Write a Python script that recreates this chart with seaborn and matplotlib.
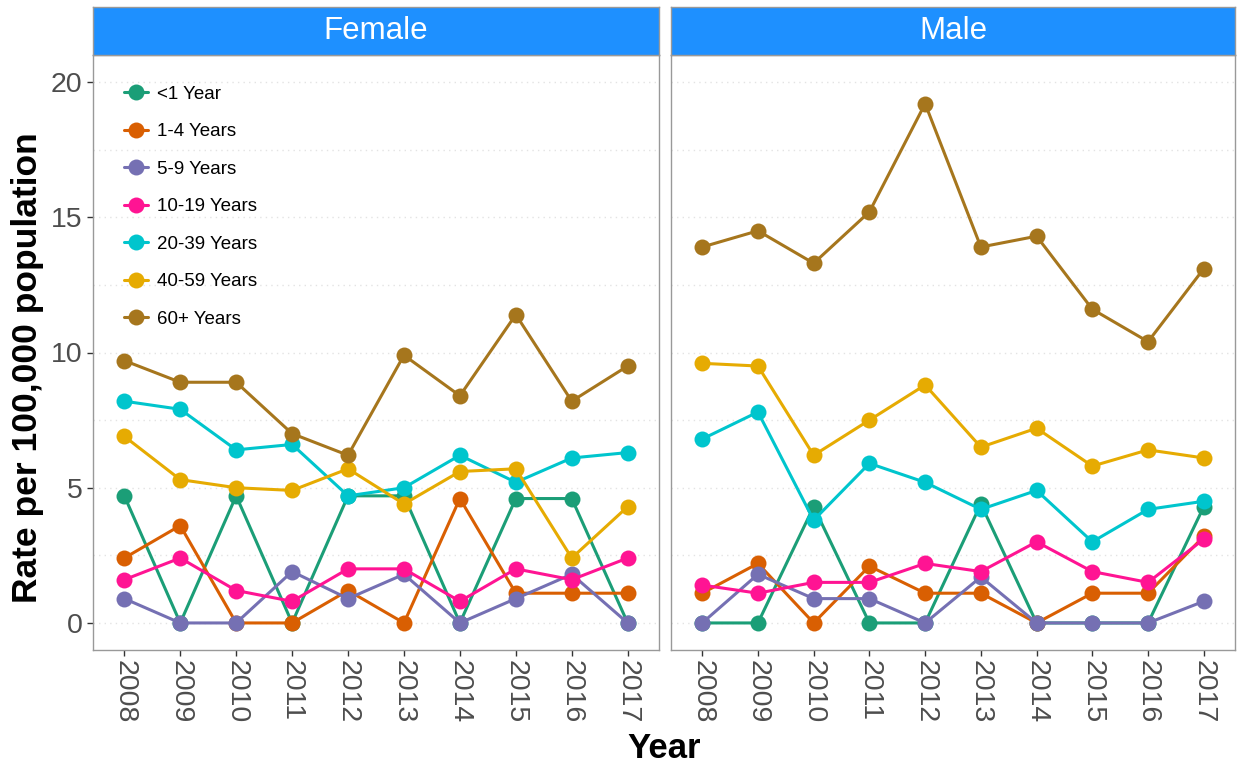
import matplotlib
matplotlib.use("Agg")
import matplotlib.pyplot as plt
import seaborn as sns
import pandas as pd

years = [2008, 2009, 2010, 2011, 2012, 2013, 2014, 2015, 2016, 2017]
age_groups = ["<1 Year", "1-4 Years", "5-9 Years", "10-19 Years", "20-39 Years", "40-59 Years", "60+ Years"]
sexes = ["Female", "Male"]

female_lt1 = [4.7, 0, 4.7, 0, 4.7, 4.7, 0, 4.6, 4.6, 0]
female_1_4 = [2.4, 3.6, 0, 0, 1.2, 0, 4.6, 1.1, 1.1, 1.1]
female_5_9 = [0.9, 0, 0, 1.9, 0.9, 1.8, 0, 0.9, 1.8, 0]
female_10_19 = [1.6, 2.4, 1.2, 0.8, 2.0, 2.0, 0.8, 2.0, 1.6, 2.4]
female_20_39 = [8.2, 7.9, 6.4, 6.6, 4.7, 5.0, 6.2, 5.2, 6.1, 6.3]
female_40_59 = [6.9, 5.3, 5.0, 4.9, 5.7, 4.4, 5.6, 5.7, 2.4, 4.3]
female_60p = [9.7, 8.9, 8.9, 7.0, 6.2, 9.9, 8.4, 11.4, 8.2, 9.5]

male_lt1 = [0, 0, 4.3, 0, 0, 4.4, 0, 0, 0, 4.3]
male_1_4 = [1.1, 2.2, 0, 2.1, 1.1, 1.1, 0, 1.1, 1.1, 3.2]
male_5_9 = [0, 1.8, 0.9, 0.9, 0, 1.7, 0, 0, 0, 0.8]
male_10_19 = [1.4, 1.1, 1.5, 1.5, 2.2, 1.9, 3.0, 1.9, 1.5, 3.1]
male_20_39 = [6.8, 7.8, 3.8, 5.9, 5.2, 4.2, 4.9, 3.0, 4.2, 4.5]
male_40_59 = [9.6, 9.5, 6.2, 7.5, 8.8, 6.5, 7.2, 5.8, 6.4, 6.1]
male_60p = [13.9, 14.5, 13.3, 15.2, 19.2, 13.9, 14.3, 11.6, 10.4, 13.1]

colors = ["#1B9E77", "#D95F02", "#7570B3", "#FF1493", "#00C5CD", "#E6AB02", "#A6761D"]

series = {
    "Female": [female_lt1, female_1_4, female_5_9, female_10_19, female_20_39, female_40_59, female_60p],
    "Male": [male_lt1, male_1_4, male_5_9, male_10_19, male_20_39, male_40_59, male_60p],
}

rows = []
for sex in sexes:
    for age, vals in zip(age_groups, series[sex]):
        for y, v in zip(years, vals):
            rows.append({"Sex": sex, "Age": age, "Year": y, "Rate": v})
df = pd.DataFrame(rows)
df["Age"] = pd.Categorical(df["Age"], categories=age_groups, ordered=True)

sns.set_style("white")
plt.rcParams["font.family"] = ["Liberation Sans", "DejaVu Sans"]
plt.rcParams["text.color"] = "black"

W, H = 1238, 767
fig = plt.figure(figsize=(W / 100, H / 100), dpi=100)
palette = dict(zip(age_groups, colors))

panels = [(93, 659), (671, 1235)]
ptop, pbot = 55, 650
strip_top = 7
tick_fs = 20.5

for i, (sex, (x0, x1)) in enumerate(zip(sexes, panels)):
    ax = fig.add_axes([x0 / W, 1 - pbot / H, (x1 - x0) / W, (pbot - ptop) / H])
    sub = df[df["Sex"] == sex]
    sns.lineplot(data=sub, x="Year", y="Rate", hue="Age", hue_order=age_groups,
                 palette=palette, marker="o", markersize=11.5, markeredgewidth=0,
                 linewidth=2.2, ax=ax, legend=(i == 0))
    ax.set_xlim(2008 - 0.56, 2017 + 0.56)
    ax.set_ylim(-1, 21)
    ax.set_xticks(years)
    ax.set_xticklabels([str(y) for y in years], rotation=270, fontsize=tick_fs, color="#4D4D4D")
    ax.set_yticks([0, 5, 10, 15, 20])
    ax.set_yticklabels(["0", "5", "10", "15", "20"], fontsize=tick_fs, color="#4D4D4D")
    ax.set_yticks([2.5, 7.5, 12.5, 17.5], minor=True)
    ax.grid(True, which="both", axis="y", color="#E3E3E3", linestyle=(0, (1, 3)), linewidth=1.0)
    ax.grid(False, axis="x")
    ax.tick_params(axis="both", which="major", length=4.5, color="#333333", width=1.0,
                   left=True, bottom=True, pad=3)
    ax.tick_params(axis="y", which="minor", length=0)
    if i == 1:
        ax.tick_params(axis="y", which="both", left=False, labelleft=False)
    ax.set_xlabel("")
    ax.set_ylabel("")
    for s in ax.spines.values():
        s.set_color("#999999")
        s.set_linewidth(1.0)
    if i == 0:
        leg = ax.legend(loc="upper left", bbox_to_anchor=(116 / W, 1 - 78 / H),
                        bbox_transform=fig.transFigure, borderaxespad=0, borderpad=0.4,
                        frameon=False, fontsize=13.5, labelspacing=1.09,
                        handlelength=1.3, handletextpad=0.5)
        for t in leg.get_texts():
            t.set_color("black")
        for h in leg.legend_handles:
            h.set_linewidth(2.2)
            h.set_markersize(11.5)
    # strip
    sax = fig.add_axes([x0 / W, 1 - ptop / H, (x1 - x0) / W, (ptop - strip_top) / H])
    sax.set_facecolor("#1E90FF")
    sax.set_xticks([])
    sax.set_yticks([])
    for s in sax.spines.values():
        s.set_color("#999999")
        s.set_linewidth(1.0)
    sax.text(0.5, 0.5, sex, ha="center", va="center", color="white", fontsize=22.5,
             transform=sax.transAxes)

fig.text(664 / W, 1 - 748 / H, "Year", ha="center", va="center", fontsize=25,
         fontweight="bold", color="black")
fig.text(28 / W, 1 - 368 / H, "Rate per 100,000 population", ha="center", va="center",
         rotation=90, fontsize=25.5, fontweight="bold", color="black")

fig.savefig("out.png", dpi=100)
